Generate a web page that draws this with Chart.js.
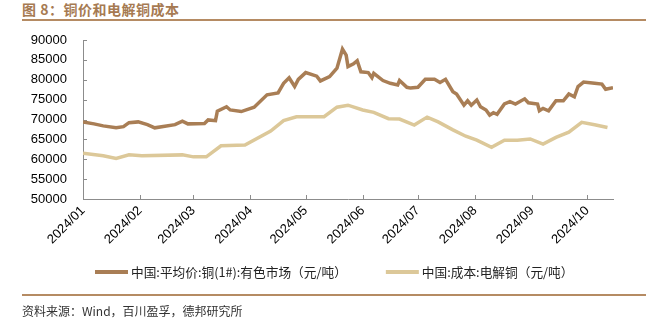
<!DOCTYPE html>
<html>
<head>
<meta charset="utf-8">
<script src="https://cdn.jsdelivr.net/npm/chart.js@4/dist/chart.umd.min.js"></script>
<style>
body{margin:0;width:656px;height:323px;background:#fff;position:relative;overflow:hidden;font-family:"Noto Sans CJK SC",sans-serif}
#titulo{position:absolute;left:22px;top:0;font-size:14px;font-weight:bold;color:#a67a52;line-height:18px;letter-spacing:0.5px}
.regla{position:absolute;left:22px;width:624px;height:2px;background:#b58b63}
#fuente{position:absolute;left:22px;top:302px;font-size:12px;color:#333;line-height:17px}
#lienzo{position:absolute;left:0;top:0}
</style>
</head>
<body>
<div id="titulo">图 8：铜价和电解铜成本</div>
<div class="regla" style="top:19px"></div>
<canvas id="lienzo" width="656" height="323"></canvas>
<div class="regla" style="top:294px"></div>
<div id="fuente">资料来源：Wind，百川盈孚，德邦研究所</div>
<script>
//Dias del año (0 = 2024/01/01) y precios
const diasPrecio=[0,6,11,18,22,25,30,35,39,50,54,57,66,68,72,73,78,80,86,93,100,106,109,112,115,117,121,127,129,134,138,141,143,144,147,149,151,155,157,158,163,167,171,172,176,178,182,186,191,194,197,201,203,207,209,211,214,216,219,221,223,225,229,232,235,240,242,247,248,250,253,257,261,264,267,269,272,278,282,284,288];
const valoresPrecio=[69400,68900,68400,67900,68200,69200,69400,68700,67900,68700,69600,68900,69000,69900,69700,72100,73200,72400,72000,73100,76200,76700,79100,80500,78300,80100,81800,80900,79700,80800,82900,87700,86200,83300,84000,84800,82000,81800,80500,81600,79800,79100,78700,79800,78100,77900,78100,80100,80100,79300,80100,77000,76400,73600,74700,73600,74900,73200,72400,71100,71700,71300,73900,74500,73900,75200,74200,73900,72200,72800,72200,74700,74700,76400,75700,78300,79400,79100,78900,77600,78000];

//Costo del cobre electrolitico (semanal aprox.)
const diasCosto=[0,11,18,25,32,54,60,67,75,88,102,109,116,131,138,144,152,158,166,172,180,187,193,201,208,214,222,229,236,243,250,257,264,271,278,285];
const valoresCosto=[61500,60900,60200,61100,60900,61100,60600,60600,63400,63600,67100,69700,70700,70700,73100,73600,72400,71800,70200,70100,68600,70600,69400,67400,65800,64800,63000,64800,64800,65100,63800,65500,66800,69300,68700,68000];

//Marcas del eje x
const diasMes=[0,31,60,91,121,152,182,213,244,274];
const etiquetasMes=["2024/01","2024/02","2024/03","2024/04","2024/05","2024/06","2024/07","2024/08","2024/09","2024/10"];

const nombrePrecio="中国:平均价:铜(1#):有色市场（元/吨）";
const nombreCosto="中国:成本:电解铜（元/吨）";

const COLOR_PRECIO="#a97e55";
const COLOR_COSTO="#dcc899";
const COLOR_EJE="#8c8c8c";

function armarPuntos(dias,valores){
 let puntos=[];
 for(let i=0;i<dias.length;i++){
  puntos.push({x:dias[i],y:valores[i]});
 }
 return puntos;
}

//Plugin que dibuja las marcas hacia adentro del area
const marcasInternas={
 id:'marcasInternas',
 beforeDatasetsDraw(chart){
  const ctx=chart.ctx, area=chart.chartArea;
  const ejeX=chart.scales.x, ejeY=chart.scales.y;
  ctx.save();
  ctx.strokeStyle=COLOR_EJE;
  ctx.lineWidth=1;
  ctx.beginPath();
  ejeY.ticks.forEach((t,i)=>{
   const y=Math.round(ejeY.getPixelForTick(i))+0.5;
   ctx.moveTo(area.left,y); ctx.lineTo(area.left+4,y);
  });
  ejeX.ticks.forEach((t,i)=>{
   const x=Math.round(ejeX.getPixelForTick(i))+0.5;
   ctx.moveTo(x,area.bottom); ctx.lineTo(x,area.bottom-4);
  });
  ctx.stroke();
  ctx.restore();
 }
};

//Leyenda propia: linea corta + texto, tomada de los datasets
const leyendaPropia={
 id:'leyendaPropia',
 afterDraw(chart){
  const ctx=chart.ctx;
  let x=95;
  const y=272;
  ctx.save();
  ctx.font="12.7px 'Noto Sans CJK SC'";
  ctx.textBaseline='middle';
  chart.data.datasets.forEach(ds=>{
   ctx.fillStyle=ds.borderColor;
   ctx.fillRect(x,y-2,33,4);
   x+=36;
   ctx.fillStyle='#222';
   ctx.fillText(ds.label,x,y);
   x+=ctx.measureText(ds.label).width+39;
  });
  ctx.restore();
 }
};

const lienzo=document.getElementById("lienzo");
new Chart(lienzo,{
 type:'line',
 data:{
  datasets:[
   {label:nombrePrecio,data:armarPuntos(diasPrecio,valoresPrecio),borderColor:COLOR_PRECIO,backgroundColor:COLOR_PRECIO,borderWidth:3.5,pointRadius:0,tension:0},
   {label:nombreCosto,data:armarPuntos(diasCosto,valoresCosto),borderColor:COLOR_COSTO,backgroundColor:COLOR_COSTO,borderWidth:3.5,pointRadius:0,tension:0}
  ]
 },
 options:{
  responsive:false,
  animation:false,
  layout:{padding:{left:20,right:43,top:40,bottom:77}},
  plugins:{
   tooltip:{enabled:false},
   legend:{display:false}
  },
  scales:{
   x:{
    type:'linear',min:0,max:288,
    afterBuildTicks(s){ s.ticks=diasMes.map(v=>({value:v})); },
    afterFit(s){ s.height=47; },
    grid:{display:false,drawTicks:false},
    border:{display:true,color:COLOR_EJE,width:1},
    ticks:{autoSkip:false,minRotation:45,maxRotation:45,padding:4,color:'#000',font:{family:"'Liberation Sans'",size:13},
     callback:(v)=>etiquetasMes[diasMes.indexOf(v)]}
   },
   y:{
    min:50000,max:90000,
    afterFit(s){ s.width=63; },
    grid:{display:false,drawTicks:false},
    border:{display:true,color:COLOR_EJE,width:1},
    ticks:{stepSize:5000,padding:16,color:'#000',font:{family:"'Liberation Sans'",size:13},
     callback:(v)=>String(v)}
   }
  }
 },
 plugins:[marcasInternas,leyendaPropia]
});
</script>
</body>
</html>
